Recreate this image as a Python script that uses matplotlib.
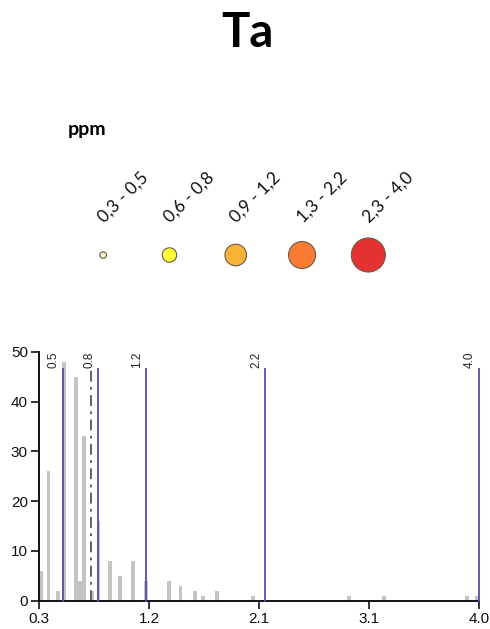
import matplotlib.pyplot as plt

# histogram bars (ppm, count)
bar_x = [0.32, 0.38, 0.46, 0.51, 0.61, 0.645, 0.68, 0.75, 0.80, 0.90, 0.98, 1.09,
         1.20, 1.39, 1.49, 1.61, 1.68, 1.80, 2.10, 2.91, 3.20, 3.90, 3.98]
bar_h = [6, 26, 2, 48, 45, 4, 33, 2, 16, 8, 5, 8,
         4, 4, 3, 2, 1, 2, 1, 1, 1, 1, 1]

# class breaks and mean line
breaks = [0.5, 0.8, 1.2, 2.2, 4.0]
mean_val = 0.74
line_top = 46.5

# legend classes
classes = ['0,3 - 0,5', '0,6 - 0,8', '0,9 - 1,2', '1,3 - 2,2', '2,3 - 4,0']
class_colors = ['#f6f3c6', '#ffff33', '#fbb234', '#f97a30', '#e43232']
class_radius = [3.3, 7.2, 10.8, 13.5, 17]

xticks = [0.3, 1.225, 2.15, 3.075, 4.0]
xtick_labels = ['0.3', '1.2', '2.1', '3.1', '4.0']

W, H = 490, 629
fig = plt.figure(figsize=(W / 100, H / 100), dpi=100)

# title and unit
fig.text(247 / W, 1 - 33 / H, 'Ta', ha='center', va='center', fontsize=34,
         fontweight='bold', family='Lato')
fig.text(68 / W, 1 - 130 / H, 'ppm', ha='left', va='center', fontsize=14,
         fontweight='bold', family='Lato')

# legend circles
lax = fig.add_axes([70 / W, 1 - 275 / H, 331.5 / W, 40 / H])
lax.set_xlim(-0.5, 4.5)
lax.set_ylim(-1, 1)
lax.axis('off')
idx = list(range(len(classes)))
sizes = [(2 * r * 0.72) ** 2 for r in class_radius]
lax.scatter(idx, [0] * len(idx), s=sizes, c=class_colors, edgecolors='#6b5a4a',
            linewidths=0.8, zorder=3, clip_on=False)
for i, lab in enumerate(classes):
    lax.annotate(lab, xy=(i, 0), xytext=(3, 30), textcoords='offset pixels',
                 rotation=45, rotation_mode='anchor', ha='left', va='bottom',
                 fontsize=12.5, family='Lato', color='#111111')

# histogram
ax = fig.add_axes([39 / W, 28.3 / H, 440 / W, 249 / H])
ax.bar(bar_x, bar_h, width=0.032, color='#c4c4c4', zorder=1)
for b in breaks:
    ax.plot([b, b], [0, line_top], color='#4f4fb0', lw=1.3, zorder=3, clip_on=False)
    ax.annotate(f'{b:.1f}', xy=(b, line_top), xytext=(-3, 1), textcoords='offset pixels',
                rotation=90, ha='right', va='bottom', fontsize=8.5,
                family='Liberation Sans', color='#222222', annotation_clip=False)
ax.plot([mean_val, mean_val], [0, line_top], color='#555555', lw=1.3,
        linestyle=(0, (6, 3, 1.5, 3)), zorder=2)

ax.set_xlim(0.3, 4.0)
ax.set_ylim(0, 50)
ax.set_xticks(xticks)
ax.set_xticklabels(xtick_labels)
ax.set_yticks([0, 10, 20, 30, 40, 50])
for s in ['top', 'right']:
    ax.spines[s].set_visible(False)
for s in ['left', 'bottom']:
    ax.spines[s].set_linewidth(1.3)
ax.tick_params(length=6, width=1.2, pad=2, labelsize=11, colors='#111111')
for t in ax.get_xticklabels() + ax.get_yticklabels():
    t.set_family('Liberation Sans')

fig.savefig('out.png', dpi=100)
